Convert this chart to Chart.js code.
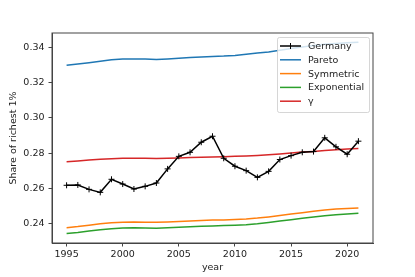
<!DOCTYPE html>
<html>
<head>
<meta charset="utf-8">
<script src="https://cdn.jsdelivr.net/npm/chart.js@4"></script>
<style>
  html, body { margin: 0; padding: 0; background: #fff; }
  #wrap { width: 415px; height: 277px; }
</style>
</head>
<body>
<div id="wrap"><canvas id="shareChart" width="415" height="277"></canvas></div>
<script>
"use strict";

// ── Data ──────────────────────────────────────────────────
const years = [1995, 1996, 1997, 1998, 1999, 2000, 2001, 2002, 2003, 2004, 2005, 2006, 2007, 2008,
               2009, 2010, 2011, 2012, 2013, 2014, 2015, 2016, 2017, 2018, 2019, 2020, 2021];

const germany = [0.2618, 0.2620, 0.2595, 0.2578, 0.2652, 0.2625, 0.2597, 0.2612, 0.2631, 0.2711,
                 0.2782, 0.2805, 0.2862, 0.2896, 0.2771, 0.2726, 0.2701, 0.2663, 0.2697, 0.2764,
                 0.2786, 0.2805, 0.2809, 0.2887, 0.2836, 0.2794, 0.2868];

const pareto = [0.3298, 0.3305, 0.3313, 0.3321, 0.3329, 0.3333, 0.3334, 0.3333, 0.3331, 0.3334,
                0.3338, 0.3342, 0.3345, 0.3348, 0.3350, 0.3354, 0.3360, 0.3367, 0.3374, 0.3383,
                0.3393, 0.3402, 0.3410, 0.3417, 0.3422, 0.3426, 0.3429];

const symmetric = [0.2378, 0.2384, 0.2392, 0.2400, 0.2406, 0.2409, 0.2410, 0.2409, 0.2408, 0.2410,
                   0.2413, 0.2416, 0.2419, 0.2421, 0.2422, 0.2424, 0.2427, 0.2432, 0.2439, 0.2447,
                   0.2455, 0.2463, 0.2471, 0.2478, 0.2483, 0.2486, 0.2489];

const exponential = [0.2345, 0.2351, 0.2359, 0.2366, 0.2372, 0.2376, 0.2377, 0.2376, 0.2375, 0.2377,
                     0.2380, 0.2383, 0.2386, 0.2388, 0.2390, 0.2392, 0.2395, 0.2400, 0.2407, 0.2415,
                     0.2423, 0.2431, 0.2439, 0.2446, 0.2451, 0.2455, 0.2459];

const gammaFit = [0.2752, 0.2756, 0.2761, 0.2766, 0.2769, 0.2771, 0.2771, 0.2771, 0.2770, 0.2771,
                  0.2773, 0.2775, 0.2777, 0.2779, 0.2780, 0.2782, 0.2784, 0.2787, 0.2791, 0.2796,
                  0.2801, 0.2806, 0.2810, 0.2815, 0.2820, 0.2823, 0.2826];

const xTicks = [1995, 2000, 2005, 2010, 2015, 2020];
const yTicks = [0.24, 0.26, 0.28, 0.30, 0.32, 0.34];

// ── Helpers ───────────────────────────────────────────────
const FONT = "'DejaVu Sans', sans-serif";
const pts = (arr) => arr.map((v, i) => ({ x: years[i], y: v }));

const line = (label, data, color) => ({
  label, data: pts(data),
  borderColor: color, backgroundColor: color,
  borderWidth: 1.5, pointRadius: 0, tension: 0, fill: false,
});

// ── Frame (top/right spines) + legend inside plot ─────────
const framePlugin = {
  id: "frame",
  afterDraw(chart) {
    const { ctx, chartArea: a } = chart;
    ctx.save();
    ctx.strokeStyle = "#444";
    ctx.lineWidth = 1;
    ctx.strokeRect(a.left, a.top, a.right - a.left, a.bottom - a.top);

    // legend box
    const bx = 277, by = 37, bw = 92, bh = 75;
    ctx.globalAlpha = 0.8;
    ctx.fillStyle = "#fff";
    ctx.strokeStyle = "#ccc";
    ctx.lineWidth = 1;
    ctx.beginPath();
    ctx.roundRect(bx + 0.5, by + 0.5, bw, bh, 2);
    ctx.fill();
    ctx.stroke();
    ctx.globalAlpha = 1;

    ctx.font = "9.5px " + FONT;
    ctx.textBaseline = "middle";
    chart.data.datasets.forEach((ds, i) => {
      const y = by + 9 + i * 13.8;
      ctx.strokeStyle = ds.borderColor;
      ctx.lineWidth = 1.5;
      ctx.beginPath();
      ctx.moveTo(280, y);
      ctx.lineTo(301, y);
      ctx.stroke();
      if (ds.pointStyle === "cross") {
        ctx.lineWidth = 1;
        ctx.beginPath();
        ctx.moveTo(290.5, y - 3);
        ctx.lineTo(290.5, y + 3);
        ctx.stroke();
      }
      ctx.fillStyle = "#222";
      ctx.fillText(ds.label, 308, y + 0.5);
    });
    ctx.restore();
  },
};

// ── Chart ─────────────────────────────────────────────────
new Chart(document.getElementById("shareChart").getContext("2d"), {
  type: "line",
  data: {
    datasets: [
      {
        label: "Germany", data: pts(germany),
        borderColor: "#000", backgroundColor: "#000",
        borderWidth: 1.5, tension: 0, fill: false,
        pointStyle: "cross", pointRadius: 3, pointBorderWidth: 1,
      },
      line("Pareto", pareto, "#1f77b4"),
      line("Symmetric", symmetric, "#ff7f0e"),
      line("Exponential", exponential, "#2ca02c"),
      line("γ", gammaFit, "#d62728"),
    ],
  },
  options: {
    responsive: false,
    animation: false,
    layout: { padding: { left: 0, right: 42, top: 33, bottom: 0 } },
    plugins: { legend: { display: false }, tooltip: { enabled: false } },
    scales: {
      x: {
        type: "linear", min: 1993.7, max: 2022.3,
        afterBuildTicks: (s) => { s.ticks = xTicks.map((v) => ({ value: v })); },
        afterFit: (s) => { s.height = 34; },
        grid: { drawOnChartArea: false, drawTicks: true, tickLength: 3.5, color: "#444" },
        border: { display: true, color: "#444", width: 1 },
        ticks: { font: { family: FONT, size: 9.5 }, color: "#222", padding: 2.5,
                 maxRotation: 0, callback: (v) => String(v) },
        title: { display: true, text: "year", font: { family: FONT, size: 9.5 },
                 color: "#222", padding: { top: 0, bottom: 4 } },
      },
      y: {
        type: "linear", min: 0.2291, max: 0.3481,
        afterBuildTicks: (s) => { s.ticks = yTicks.map((v) => ({ value: v })); },
        afterFit: (s) => { s.width = 52; },
        grid: { drawOnChartArea: false, drawTicks: true, tickLength: 3.5, color: "#444" },
        border: { display: true, color: "#444", width: 1 },
        ticks: { font: { family: FONT, size: 9.5 }, color: "#222", padding: 4,
                 callback: (v) => v.toFixed(2) },
        title: { display: true, text: "Share of richest 1%", font: { family: FONT, size: 9.5 },
                 color: "#222", padding: { top: 8, bottom: 0 } },
      },
    },
  },
  plugins: [framePlugin],
});
</script>
</body>
</html>
